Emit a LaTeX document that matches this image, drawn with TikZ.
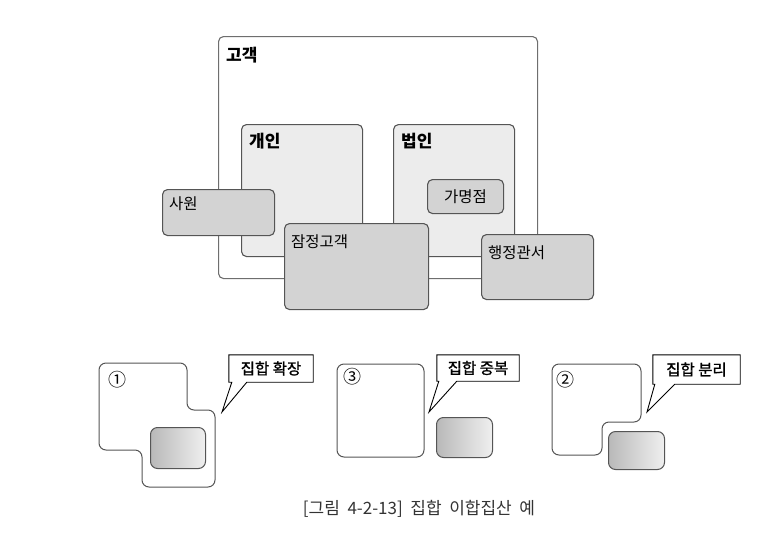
\documentclass[tikz,border=0pt]{standalone}
\usepackage{fontspec}
\newfontfamily\kr{Noto Sans CJK KR}
\newfontfamily\krnote{Noto Sans CJK KR}[FakeBold=1.2]
\newfontfamily\krcap{Noto Sans CJK KR}[WordSpace=2]
\usetikzlibrary{positioning, calc}

\definecolor{edgegray}{HTML}{555555}
\definecolor{framegray}{HTML}{6E6E6E}
\definecolor{boxlight}{HTML}{ECECEC}
\definecolor{boxmid}{HTML}{D3D3D3}
\definecolor{captiongray}{HTML}{333333}

\begin{document}
\begin{tikzpicture}[x=1pt, y=-1pt,
    every node/.style={font=\kr},
    boxsize/.style 2 args={minimum width=#1, minimum height=#2},
    setbox/.style={draw=edgegray, line width=1.1pt, rounded corners=5pt,
        anchor=north west, inner sep=0pt},
    outerset/.style={setbox, draw=framegray, fill=white},
    innerset/.style={setbox, fill=boxlight},
    subset/.style={setbox, fill=boxmid},
    settitle/.style={font=\kr\bfseries\fontsize{17}{19}\selectfont, anchor=west, inner sep=0pt},
    setname/.style={font=\kr\fontsize{15.5}{17}\selectfont, anchor=west, inner sep=0pt},
    groupline/.style={draw=edgegray, line width=1pt, rounded corners=7pt},
    piece/.style={draw=edgegray, line width=1pt, rounded corners=7pt, anchor=north west,
        inner sep=0pt, left color=gray!55, right color=gray!12},
    marker/.style={font=\kr\fontsize{18}{20}\selectfont, inner sep=0pt},
    notetext/.style={font=\krnote\fontsize{15.5}{17}\selectfont, text=black, inner sep=0pt},
    noteline/.style={draw=black, line width=0.9pt, line join=miter}
]
    % set diagram
    \node[outerset, boxsize={319}{242}] (customer) at (218,36) {};
    \node[innerset, boxsize={121}{132}] (person)   at (241,124) {};
    \node[innerset, boxsize={121}{132}] (corp)     at (393,124) {};
    \node[subset, boxsize={76}{34}]     (store)    at (427,179) {};
    \node[subset, boxsize={112}{46}]    (staff)    at (162,189) {};
    \node[subset, boxsize={144}{86}]    (prospect) at (284,223) {};
    \node[subset, boxsize={112}{65}]    (office)   at (481,234) {};

    \node[settitle] (customerlbl) at (226,55)  {고객};
    \node[settitle] (personlbl)   at (249,141) {개인};
    \node[settitle] (corplbl)     at (401,141) {법인};
    \node[setname, anchor=center] (storelbl) at (store.center) {가명점};
    \node[setname] (stafflbl)     at (169,204) {사원};
    \node[setname] (prospectlbl)  at (291,242) {잠정고객};
    \node[setname] (officelbl)    at (488,253) {행정관서};

    % union / split / overlap
    \draw[groupline] (99,363) -- (187,363) -- (187,410) -- (215,410) -- (215,487)
        -- (142,487) -- (142,450) -- (99,450) -- cycle;
    \draw[groupline] (337,364) rectangle (424,457);
    \draw[groupline] (552,364) -- (641,364) -- (641,422) -- (602,422) -- (602,455)
        -- (552,455) -- cycle;

    \node[piece, boxsize={55}{41}] (pieceA) at (150,427) {};
    \node[piece, boxsize={56}{40}] (pieceB) at (436,417) {};
    \node[piece, boxsize={56}{38}] (pieceC) at (608,431) {};

    \node[marker] (markA) at (117,380) {①};
    \node[marker] (markB) at (352,377) {③};
    \node[marker] (markC) at (565,380) {②};

    % callouts
    \node[notetext, boxsize={84}{27}]   (noteA) at (271,368.5) {집합 확장};
    \node[notetext, boxsize={82}{26}]   (noteB) at (478,368)   {집합 중복};
    \node[notetext, boxsize={87}{29}]   (noteC) at (696.5,369.5) {집합 분리};
    \coordinate (tipA) at (222,412);
    \coordinate (tipB) at (429,412);
    \coordinate (tipC) at (647,412);

    \draw[noteline] (noteA.south west) -- (noteA.north west) -- (noteA.north east)
        -- (noteA.south east) -- ([xshift=18]noteA.south west) -- (tipA)
        -- ([xshift=3]noteA.south west) -- cycle;
    \draw[noteline] (noteB.south west) -- (noteB.north west) -- (noteB.north east)
        -- (noteB.south east) -- ([xshift=20]noteB.south west) -- (tipB)
        -- ([xshift=2]noteB.south west) -- cycle;
    \draw[noteline] (noteC.south west) -- (noteC.north west) -- (noteC.north east)
        -- (noteC.south east) -- ([xshift=22]noteC.south west) -- (tipC)
        -- ([xshift=2]noteC.south west) -- cycle;

    \node[font=\krcap\fontsize{17}{19}\selectfont, text=captiongray]
        (caption) at (419,509) {[그림 4-2-13] 집합 이합집산 예};

    \useasboundingbox (0,0) rectangle (763,533);
\end{tikzpicture}
\end{document}
